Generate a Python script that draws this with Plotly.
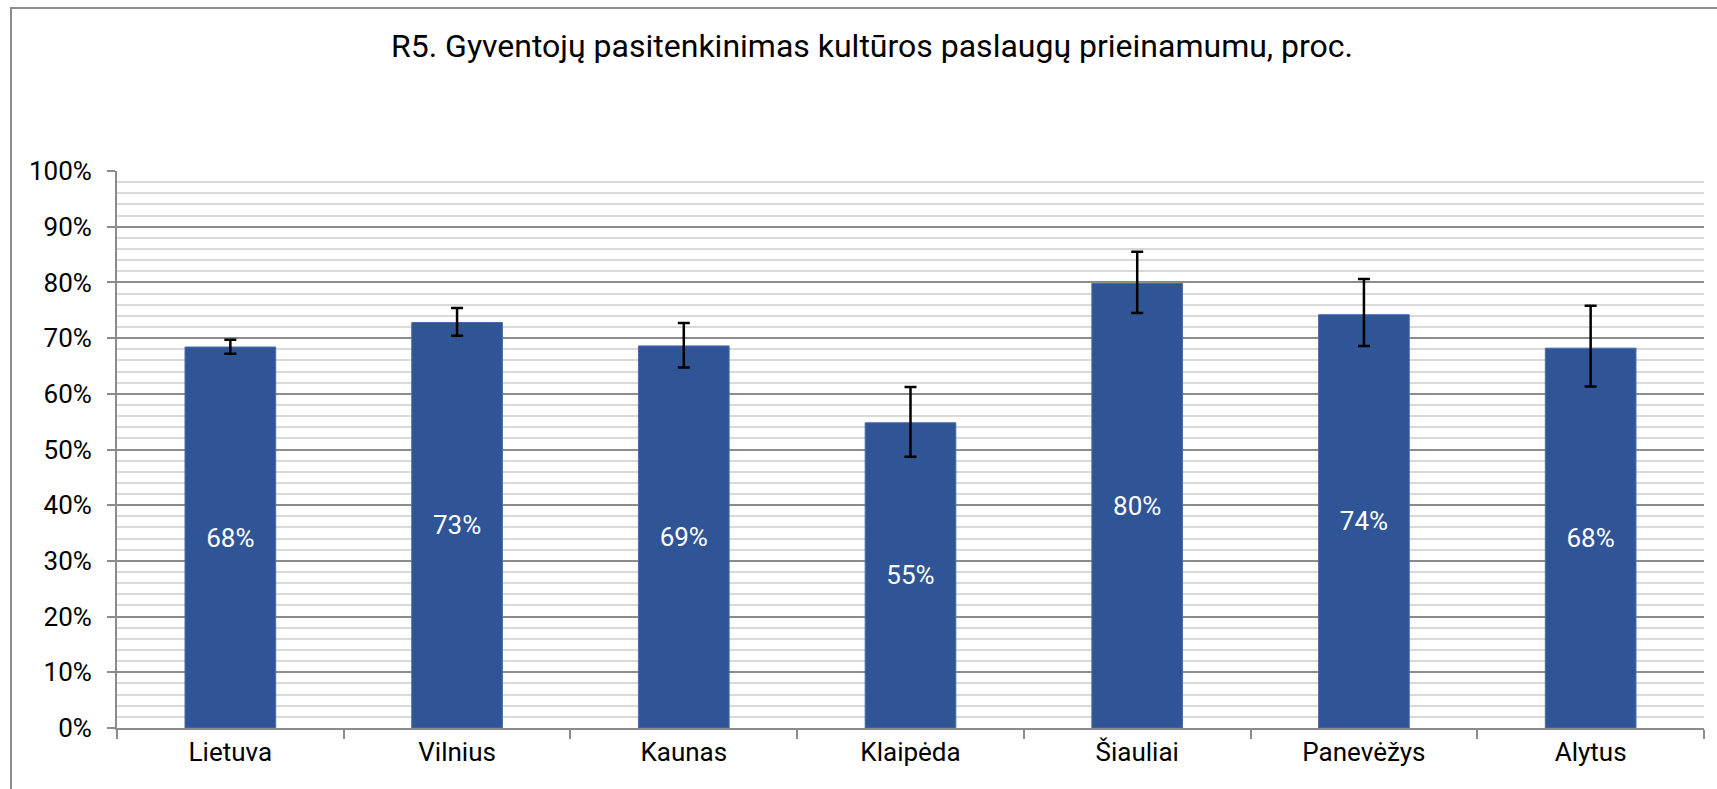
import plotly.graph_objects as go

# Satisfaction with access to cultural services, by city (percent)
categories = ["Lietuva", "Vilnius", "Kaunas", "Klaipėda", "Šiauliai", "Panevėžys", "Alytus"]
values = [68.4, 72.8, 68.6, 54.8, 79.8, 74.2, 68.2]
err_plus = [1.3, 2.6, 4.1, 6.4, 5.7, 6.4, 7.6]
err_minus = [1.2, 2.4, 3.9, 6.1, 5.3, 5.6, 6.9]
y_ticks = list(range(0, 101, 10))
title_text = "R5. Gyventojų pasitenkinimas kultūros paslaugų prieinamumu, proc."

FONT = "Roboto"
W, H = 1717, 789

fig = go.Figure(
    go.Bar(
        x=categories,
        y=values,
        width=0.4,
        marker=dict(color="#2F5597", line=dict(color="#4A6DAA", width=1)),
        texttemplate="%{y:.0f}%",
        textposition="inside",
        insidetextanchor="middle",
        textangle=0,
        constraintext="none",
        textfont=dict(family=FONT, size=26, color="white"),
        error_y=dict(
            type="data",
            symmetric=False,
            array=err_plus,
            arrayminus=err_minus,
            color="black",
            thickness=2.5,
            width=6,
        ),
        hoverinfo="skip",
    )
)

fig.update_layout(
    width=W,
    height=H,
    margin=dict(l=117, r=13, t=171, b=61),
    paper_bgcolor="white",
    plot_bgcolor="white",
    showlegend=False,
    font=dict(family=FONT, size=26, color="black"),
    title=dict(
        text=title_text,
        font=dict(family=FONT, size=32, color="black"),
        x=872 / W,
        xanchor="center",
        xref="container",
        y=1 - 46 / H,
        yanchor="middle",
        yref="container",
    ),
    xaxis=dict(
        showline=True,
        linecolor="#8C8C8C",
        linewidth=2,
        ticks="outside",
        tickson="boundaries",
        ticklen=9,
        tickwidth=2,
        tickcolor="#8C8C8C",
        showgrid=False,
        tickfont=dict(family=FONT, size=26, color="black"),
    ),
    yaxis=dict(
        range=[0, 100],
        tickvals=y_ticks,
        ticktext=[f"{v}%" for v in y_ticks],
        showline=True,
        linecolor="#8C8C8C",
        linewidth=2,
        ticks="outside",
        ticklen=8,
        tickwidth=2,
        tickcolor="#8C8C8C",
        showgrid=True,
        gridcolor="#8C8C8C",
        gridwidth=2,
        zeroline=False,
        ticklabelstandoff=10,
        tickfont=dict(family=FONT, size=26, color="black"),
        minor=dict(dtick=2, showgrid=True, gridcolor="#D9D9D9", gridwidth=2),
    ),
)

# chart frame (top and left edges visible)
fig.add_shape(
    type="rect",
    xref="paper",
    yref="paper",
    x0=-(117 - 11) / (W - 117 - 13),
    x1=1 + 40 / (W - 117 - 13),
    y0=-100 / (H - 171 - 61),
    y1=1 + (171 - 8) / (H - 171 - 61),
    line=dict(color="#8C8C8C", width=2),
    layer="below",
)

fig.write_html("out.html")
